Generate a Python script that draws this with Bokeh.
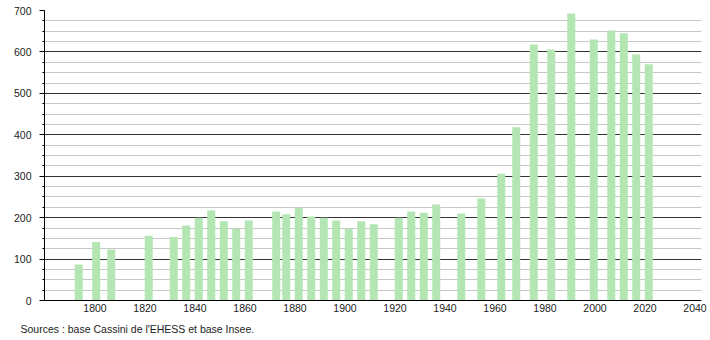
from bokeh.plotting import figure
from bokeh.models import SingleIntervalTicker, FixedTicker, Title, Range1d
from bokeh.transform import dodge
from bokeh.embed import file_html
from bokeh.resources import INLINE

years = [1793, 1800, 1806, 1821, 1831, 1836, 1841, 1846, 1851, 1856, 1861,
         1872, 1876, 1881, 1886, 1891, 1896, 1901, 1906, 1911, 1921, 1926,
         1931, 1936, 1946, 1954, 1962, 1968, 1975, 1982, 1990, 1999, 2006,
         2011, 2016, 2021]
population = [87, 141, 123, 156, 153, 181, 200, 217, 191, 174, 193,
              215, 208, 224, 203, 200, 193, 174, 191, 184, 200, 215,
              212, 232, 210, 246, 306, 418, 618, 606, 693, 630, 652,
              645, 594, 570]
x_ticks = [1800, 1820, 1840, 1860, 1880, 1900, 1920, 1940, 1960, 1980, 2000,
           2020, 2040]
source_text = "Sources : base Cassini de l'EHESS et base Insee."

FONT = "Liberation Sans"
FS = "10.5px"

p = figure(width=710, height=340, output_backend="svg", toolbar_location=None,
           x_range=Range1d(1779.8, 2042.6), y_range=Range1d(0, 700),
           min_border_left=44, min_border_right=9, min_border_top=10,
           min_border_bottom=0)
p.outline_line_color = None
p.background_fill_color = "white"
p.border_fill_color = "white"

p.vbar(x=dodge("x", 0.5, range=p.x_range), top="top", width=3.2, bottom=0,
       source=dict(x=years, top=population),
       fill_color="#b3e6b3", line_color=None)

# y axis
p.yaxis.ticker = SingleIntervalTicker(interval=100, num_minor_ticks=4)
p.yaxis.axis_line_color = "black"
p.yaxis.major_tick_line_color = "black"
p.yaxis.minor_tick_line_color = "black"
p.yaxis.major_tick_out = 5
p.yaxis.major_tick_in = 0
p.yaxis.minor_tick_out = 2
p.yaxis.minor_tick_in = 0
p.yaxis.major_label_standoff = 8
p.yaxis.major_label_text_font = FONT
p.yaxis.major_label_text_font_size = FS
p.yaxis.major_label_text_color = "#222222"

# x axis
p.xaxis.ticker = FixedTicker(ticks=x_ticks)
p.xaxis.axis_line_color = "black"
p.xaxis.major_tick_line_color = None
p.xaxis.minor_tick_line_color = None
p.xaxis.major_tick_out = 0
p.xaxis.major_tick_in = 0
p.xaxis.major_label_standoff = 3
p.xaxis.major_label_text_font = FONT
p.xaxis.major_label_text_font_size = FS
p.xaxis.major_label_text_color = "#222222"

# grids
p.xgrid.grid_line_color = None
p.ygrid.ticker = SingleIntervalTicker(interval=100, num_minor_ticks=4)
p.ygrid.grid_line_color = "#333333"
p.ygrid.grid_line_width = 1
p.ygrid.minor_grid_line_color = "#c8c8c8"
p.ygrid.minor_grid_line_width = 1

p.add_layout(Title(text=source_text, align="left", offset=-24, standoff=12,
                   text_font=FONT, text_font_size=FS,
                   text_font_style="normal", text_color="#222222"), "below")

open("out.html", "w").write(file_html(p, INLINE))
